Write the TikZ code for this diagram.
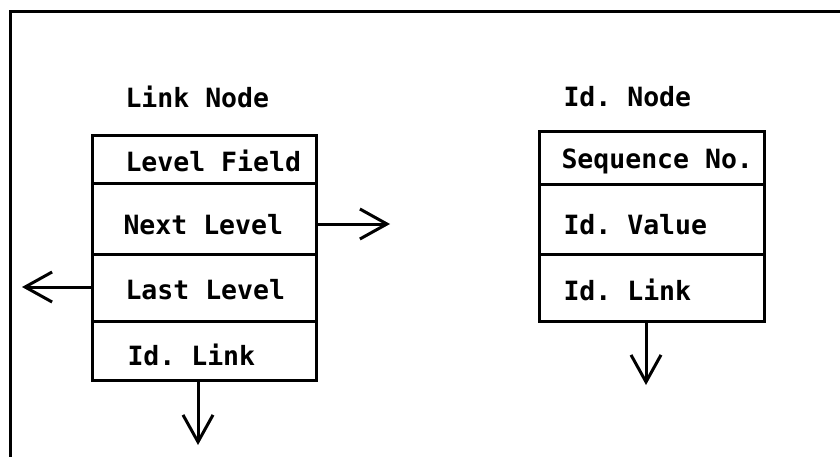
\documentclass[tikz,border=0pt]{standalone}
\usepackage{fontspec}
\setmonofont{DejaVu Sans Mono}
\usetikzlibrary{arrows.meta}
\begin{document}
\begin{tikzpicture}[x=1pt,y=-1pt,
  line width=3pt,
  lbl/.style={anchor=west,inner sep=0pt,font=\ttfamily\bfseries\fontsize{26.5}{28}\selectfont},
  ptr/.style={-{Straight Barb[length=27pt,width=30pt,line width=3pt]}}]
\useasboundingbox (0,0) rectangle (840,457);
\draw (10,457) -- (10,12) -- (840,12);
% Link node
\node[lbl] (linktitle) at (124,97) {Link Node};
\draw (92,136) rectangle (316,380);
\draw (92,184) -- (316,184);
\draw (92,254) -- (316,254);
\draw (92,321) -- (316,321);
\node[lbl] (lf) at (124,161) {Level Field};
\node[lbl] (nl) at (122,225) {Next Level};
\node[lbl] (ll) at (124,290) {Last Level};
\node[lbl] (il) at (126,355) {Id. Link};
\coordinate (nlR) at (316,224);
\coordinate (nlE) at (390,224);
\coordinate (llL) at (92,287);
\coordinate (llE) at (22,287);
\coordinate (ilB) at (198,380);
\coordinate (ilE) at (198,445);
\draw[ptr] (nlR) -- (nlE);
\draw[ptr] (llL) -- (llE);
\draw[ptr] (ilB) -- (ilE);
% Id node
\node[lbl] (idtitle) at (562,97) {Id. Node};
\draw (539,132) rectangle (764,321);
\draw (539,185) -- (764,185);
\draw (539,254) -- (764,254);
\node[lbl] (sq) at (560,161) {Sequence No.};
\node[lbl] (iv) at (562,225) {Id. Value};
\node[lbl] (il2) at (562,290) {Id. Link};
\coordinate (idB) at (646,321);
\coordinate (idE) at (646,385);
\draw[ptr] (idB) -- (idE);
\end{tikzpicture}
\end{document}
